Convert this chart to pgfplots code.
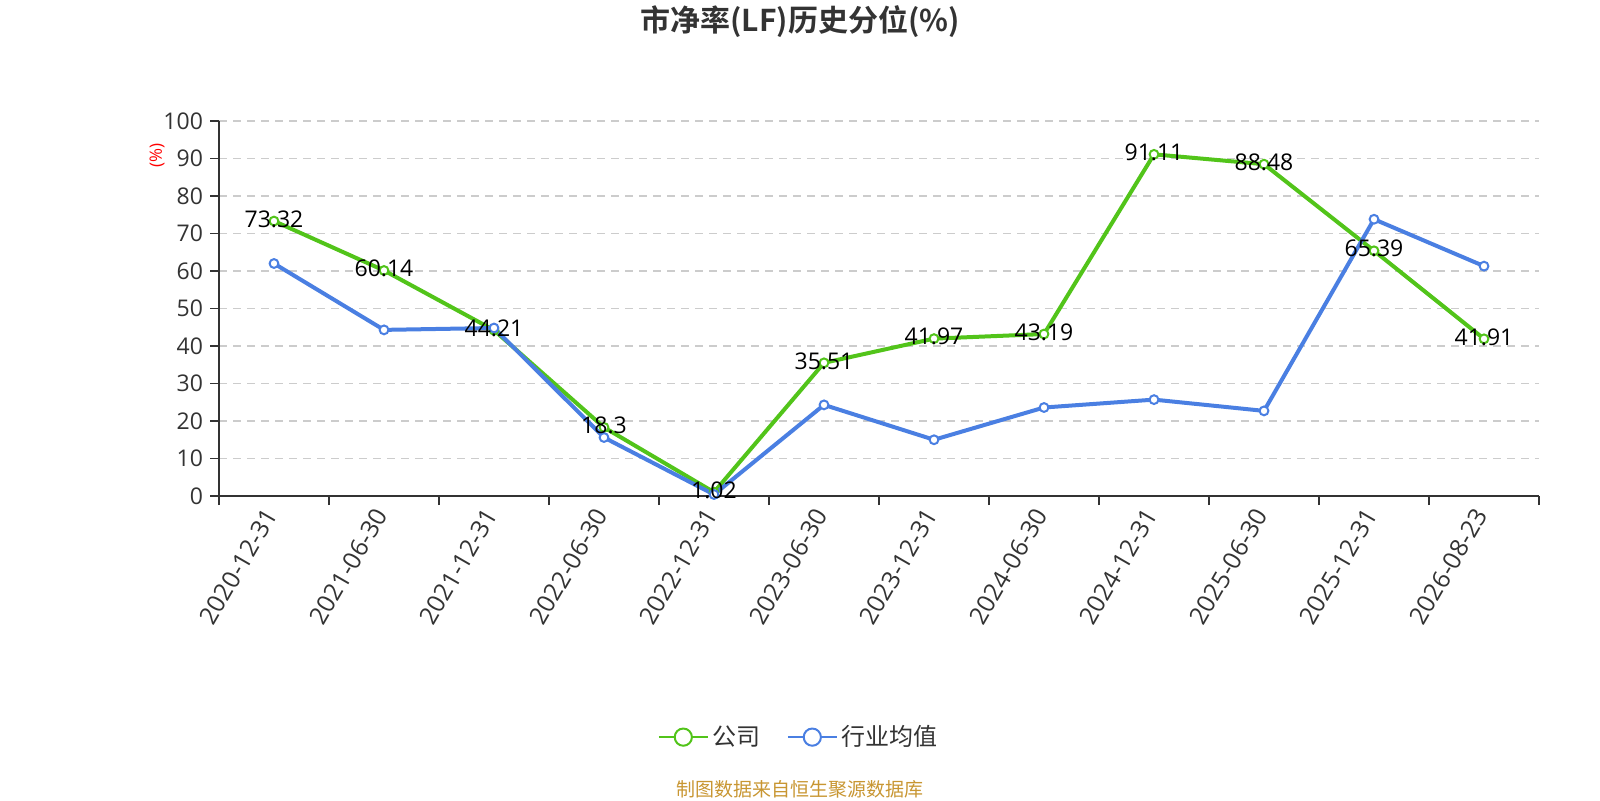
\documentclass[border=0pt]{standalone}
\usepackage{fontspec}
\setmainfont{Open Sans}
\newfontfamily\cjk{Noto Sans CJK SC}[BoldFont={Noto Sans CJK SC Bold}]
\usepackage{pgfplots}
\pgfplotsset{compat=1.18}
\definecolor{cgreen}{RGB}{82,196,26}
\definecolor{cblue}{RGB}{74,127,226}
\definecolor{ctext}{RGB}{51,51,51}
\definecolor{cgrid}{RGB}{204,204,204}
\definecolor{csrc}{RGB}{200,150,50}
\begin{document}
\begin{tikzpicture}[x=1pt,y=1pt]
\path[use as bounding box] (0,0) rectangle (800,400);
\node[font=\cjk\bfseries\fontsize{15}{17}\selectfont, text=ctext] at (400,389) {市净率(LF)历史分位(\%)};
\node[font=\cjk\fontsize{9.5}{11}\selectfont, text=csrc] at (400,5.5) {制图数据来自恒生聚源数据库};
\begin{axis}[
  at={(109.5pt,152pt)}, anchor=south west, scale only axis,
  width=660pt, height=187.5pt,
  xmin=0, xmax=12, ymin=0, ymax=100,
  clip=false,
  axis x line*=bottom, axis y line*=left,
  axis line style={ctext, line width=0.75pt, -},
  xtick={0,...,12},
  x tick label as interval,
  xticklabels={2020-12-31,2021-06-30,2021-12-31,2022-06-30,2022-12-31,2023-06-30,2023-12-31,2024-06-30,2024-12-31,2025-06-30,2025-12-31,2026-08-23},
  ytick={0,10,...,100},
  tick align=outside,
  major tick length=4.5pt,
  tick style={ctext, line width=0.75pt},
  ymajorgrids,
  major y grid style={cgrid, dash pattern=on 4pt off 3pt, line width=0.6pt},
  tick label style={font=\fontsize{11.5}{13}\selectfont, text=ctext},
  /pgf/number format/assume math mode=true,
  xticklabel style={rotate=60, anchor=east, font=\fontsize{12.3}{14}\selectfont},
  ylabel={(\%)},
  ylabel style={at={(axis description cs:-0.047,0.909)}, anchor=center, text=red, font=\fontsize{8.5}{9}\selectfont},
  legend style={at={(axis description cs:0.440,-0.643)}, anchor=center, draw=none, fill=none,
    font=\cjk\fontsize{12}{14}\selectfont, text=ctext,
    /tikz/every even column/.append style={column sep=11pt}},
  legend columns=2,
  legend cell align=left,
]
\addplot[cgreen, line width=2pt, mark=*, mark size=2.2pt, mark options={fill=white, line width=1pt},
  legend image code/.code={\draw[cgreen,line width=1pt] (0pt,0pt)--(24.5pt,0pt); \draw[cgreen,line width=1pt,fill=white] (12.25pt,0pt) circle (4.3pt);}]
  table {
x y
0.5 73.32
1.5 60.14
2.5 44.21
3.5 18.3
4.5 1.02
5.5 35.51
6.5 41.97
7.5 43.19
8.5 91.11
9.5 88.48
10.5 65.39
11.5 41.91
};
\addlegendentry{公司}
\addplot[cblue, line width=2pt, mark=*, mark size=2.2pt, mark options={fill=white, line width=1pt},
  legend image code/.code={\draw[cblue,line width=1pt] (0pt,0pt)--(24.5pt,0pt); \draw[cblue,line width=1pt,fill=white] (12.25pt,0pt) circle (4.3pt);}]
  table {
x y
0.5 62.0
1.5 44.3
2.5 44.8
3.5 15.6
4.5 0.4
5.5 24.3
6.5 15.0
7.5 23.6
8.5 25.7
9.5 22.7
10.5 73.8
11.5 61.3
};
\addlegendentry{行业均值}
\addplot[draw=none, mark=none, forget plot, nodes near coords, point meta=explicit symbolic,
  nodes near coords style={anchor=center, yshift=1pt, font=\fontsize{11.5}{13}\selectfont, text=black}]
  table[meta=label] {
x y label
0.5 73.32 73.32
1.5 60.14 60.14
2.5 44.21 44.21
3.5 18.3 18.3
4.5 1.02 1.02
5.5 35.51 35.51
6.5 41.97 41.97
7.5 43.19 43.19
8.5 91.11 91.11
9.5 88.48 88.48
10.5 65.39 65.39
11.5 41.91 41.91
};
\end{axis}
\end{tikzpicture}
\end{document}
